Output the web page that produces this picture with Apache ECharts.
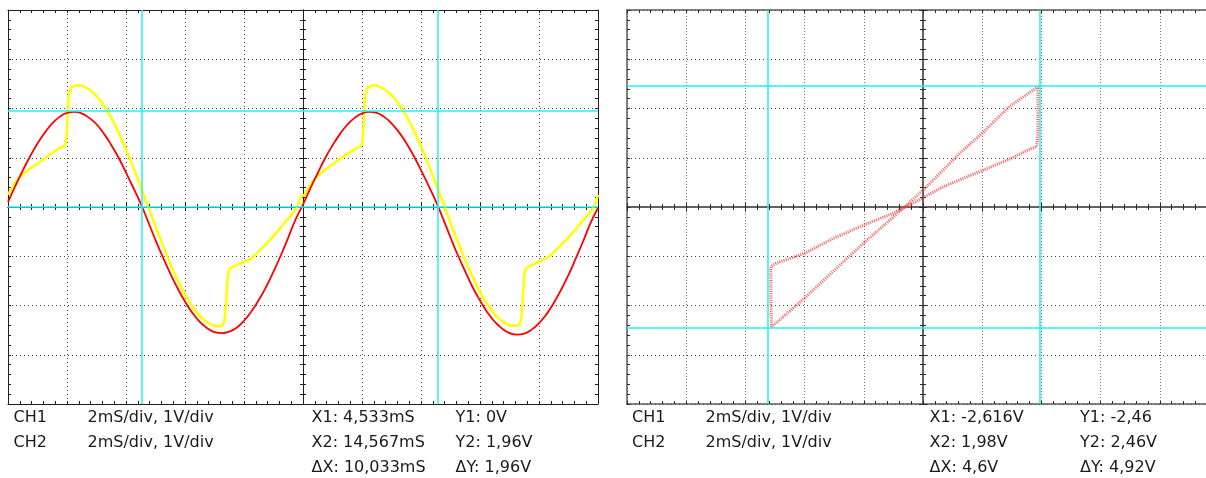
<!DOCTYPE html>
<html>
<head>
<meta charset="utf-8">
<script src="https://cdn.jsdelivr.net/npm/echarts@6/dist/echarts.min.js"></script>
<style>
  html, body { margin: 0; padding: 0; background: #ffffff; }
  #chart { width: 1206px; height: 478px; }
</style>
</head>
<body>
<div id="chart"></div>
<script>
// ---- Time-domain traces: time in ms, amplitude in V ----
const redT = [0, 0.25, 0.5, 0.75, 1, 1.25, 1.5, 1.75, 2, 2.25,
  2.5, 2.75, 3, 3.25, 3.5, 3.75, 4, 4.25, 4.5, 4.75,
  5, 5.25, 5.5, 5.75, 6, 6.25, 6.5, 6.75, 7, 7.25,
  7.5, 7.75, 8, 8.25, 8.5, 8.75, 9, 9.25, 9.5, 9.75,
  10, 10.25, 10.5, 10.75, 11, 11.25, 11.5, 11.75, 12, 12.25,
  12.5, 12.75, 13, 13.25, 13.5, 13.75, 14, 14.25, 14.5, 14.75,
  15, 15.25, 15.5, 15.75, 16, 16.25, 16.5, 16.75, 17, 17.25,
  17.5, 17.75, 18, 18.25, 18.5, 18.75, 19, 19.25, 19.5, 19.75, 20];
const redV = [0.10, 0.43, 0.74, 1.03, 1.29, 1.51, 1.70, 1.83, 1.91, 1.93,
  1.90, 1.81, 1.68, 1.49, 1.26, 1.00, 0.70, 0.39, 0.07, -0.30,
  -0.67, -1.02, -1.35, -1.65, -1.92, -2.15, -2.33, -2.46, -2.54, -2.56,
  -2.53, -2.45, -2.31, -2.12, -1.89, -1.62, -1.31, -0.98, -0.62, -0.25,
  0.05, 0.38, 0.69, 0.99, 1.25, 1.48, 1.67, 1.81, 1.90, 1.93,
  1.91, 1.83, 1.70, 1.52, 1.30, 1.04, 0.75, 0.44, 0.12, -0.24,
  -0.62, -0.98, -1.31, -1.63, -1.90, -2.14, -2.33, -2.47, -2.56, -2.59,
  -2.57, -2.49, -2.36, -2.18, -1.95, -1.68, -1.38, -1.04, -0.69, -0.32, -0.02];

const yelT = [0, 0.25, 0.5, 0.75, 1.0, 1.25, 1.5, 1.75, 1.93, 2.0,
  2.05, 2.12, 2.35, 2.5, 2.75, 3.0, 3.25, 3.5, 3.75, 4.0,
  4.25, 4.5, 4.75, 5.0, 5.25, 5.5, 5.75, 6.0, 6.25, 6.5,
  6.75, 7.0, 7.2, 7.3, 7.36, 7.43, 7.5, 7.75, 8.0, 8.25,
  8.5, 8.75, 9.0, 9.25, 9.5, 9.75, 9.85, 9.93,
  10.05, 10.3, 10.55, 10.8, 11.05, 11.3, 11.55, 11.8, 11.98, 12.05,
  12.1, 12.17, 12.4, 12.55, 12.8, 13.05, 13.3, 13.55, 13.8, 14.05,
  14.3, 14.55, 14.8, 15.05, 15.3, 15.55, 15.8, 16.05, 16.3, 16.55,
  16.8, 17.05, 17.25, 17.35, 17.41, 17.48, 17.55, 17.8, 18.05, 18.3,
  18.55, 18.8, 19.05, 19.3, 19.55, 19.8, 19.9, 19.98, 20.0];
const yelV = [0.25, 0.50, 0.66, 0.78, 0.88, 0.99, 1.10, 1.20, 1.26, 1.60,
  2.20, 2.40, 2.47, 2.46, 2.39, 2.25, 2.06, 1.81, 1.51, 1.17,
  0.80, 0.41, 0.01, -0.39, -0.78, -1.15, -1.48, -1.78, -2.02, -2.21,
  -2.34, -2.41, -2.42, -2.38, -2.20, -1.60, -1.27, -1.18, -1.12, -1.04,
  -0.90, -0.75, -0.59, -0.41, -0.23, -0.05, 0.06, 0.20,
  0.25, 0.50, 0.66, 0.78, 0.89, 1.00, 1.10, 1.19, 1.25, 1.60,
  2.20, 2.40, 2.47, 2.45, 2.37, 2.24, 2.05, 1.80, 1.50, 1.16,
  0.79, 0.40, 0.01, -0.40, -0.78, -1.15, -1.48, -1.78, -2.02, -2.21,
  -2.34, -2.41, -2.41, -2.36, -2.18, -1.60, -1.26, -1.17, -1.10, -1.02,
  -0.89, -0.74, -0.58, -0.41, -0.23, -0.05, 0.06, 0.20, 0.25];

// ---- XY mode trace (volts on both axes), one loop in traversal order ----
const xyX = [-0.2, 0.34, 1.0, 1.46, 1.83, 1.92, 1.94, 1.94, 1.92, 1.46,
  1.0, 0.62, 0.34, 0.06, -0.34, -0.62, -1.01, -1.52, -2.0, -2.42,
  -2.56, -2.57, -2.57, -2.48, -2.0, -1.52, -1.01, -0.51, -0.2];
const xyY = [0.06, 0.41, 0.74, 0.97, 1.19, 1.22, 1.45, 2.44, 2.43, 2.04,
  1.5, 1.09, 0.75, 0.41, -0.03, -0.33, -0.74, -1.31, -1.85, -2.29,
  -2.43, -1.9, -1.21, -1.14, -0.94, -0.64, -0.37, -0.13, 0.06];

// ---- Cursor positions ----
const timeCursorX = [4.533, 14.567];   // ms
const timeCursorY = [0, 1.96];         // V
const xyCursorX = [-2.616, 1.98];      // V
const xyCursorY = [-2.46, 2.46];       // V

// ---- Readout text ----
const timeReadout = [
  ['CH1', '2mS/div, 1V/div', 'X1: 4,533mS', 'Y1: 0V'],
  ['CH2', '2mS/div, 1V/div', 'X2: 14,567mS', 'Y2: 1,96V'],
  ['', '', '\u0394X: 10,033mS', '\u0394Y: 1,96V']
];
const xyReadout = [
  ['CH1', '2mS/div, 1V/div', 'X1: -2,616V', 'Y1: -2,46'],
  ['CH2', '2mS/div, 1V/div', 'X2: 1,98V', 'Y2: 2,46V'],
  ['', '', '\u0394X: 4,6V', '\u0394Y: 4,92V']
];

const pairs = (xs, ys) => xs.map((x, i) => [x, ys[i]]);

const CYAN = '#22f2f2';
const FONT = '16px "DejaVu Sans", sans-serif';

// Builds the frame, graticule and centre-axis set for one screen panel.
function panelAxes(gridIndex, base, xr, xInt, yr, yInt, cxr, st) {
  const line = { color: st.axis, width: st.axisW };
  const tick = (inside, len) => ({ show: true, inside: inside, length: len, lineStyle: { color: st.tick, width: 1 } });
  const minor = (len) => ({ show: true, splitNumber: 5, length: len, lineStyle: { color: st.tick, width: 1 } });
  const noLabel = { show: false };
  const xs = [
    { gridIndex, type: 'value', min: xr[0], max: xr[1], interval: xInt, position: 'bottom',
      axisLine: { show: true, onZero: false, lineStyle: line }, axisTick: tick(true, 3), minorTick: minor(3),
      axisLabel: noLabel, splitLine: { show: true, lineStyle: { color: st.gridV, type: st.dashV, width: 1 } } },
    { gridIndex, type: 'value', min: xr[0], max: xr[1], interval: xInt, position: 'top',
      axisLine: { show: true, onZero: false, lineStyle: line }, axisTick: tick(true, 3), minorTick: minor(3),
      axisLabel: noLabel, splitLine: { show: false } },
    { gridIndex, type: 'value', min: cxr[0], max: cxr[1], interval: xInt, position: 'bottom',
      axisLine: { show: true, onZero: true, onZeroAxisIndex: base.y, lineStyle: line }, axisTick: tick(true, 4), minorTick: minor(3),
      axisLabel: noLabel, splitLine: { show: false } },
    { gridIndex, type: 'value', min: cxr[0], max: cxr[1], interval: xInt, position: 'bottom',
      axisLine: { show: true, onZero: true, onZeroAxisIndex: base.y, lineStyle: line }, axisTick: tick(false, 4), minorTick: minor(3),
      axisLabel: noLabel, splitLine: { show: false } }
  ];
  const ys = [
    { gridIndex, type: 'value', min: yr[0], max: yr[1], interval: yInt, position: 'left',
      axisLine: { show: true, onZero: false, lineStyle: line }, axisTick: tick(true, 3), minorTick: minor(3),
      axisLabel: noLabel, splitLine: { show: true, lineStyle: { color: st.gridH, type: st.dashH, width: 1 } } },
    { gridIndex, type: 'value', min: yr[0], max: yr[1], interval: yInt, position: 'right',
      axisLine: { show: true, onZero: false, lineStyle: line }, axisTick: tick(true, 3), minorTick: minor(3),
      axisLabel: noLabel, splitLine: { show: false } },
    { gridIndex, type: 'value', min: yr[0], max: yr[1], interval: yInt, position: 'left',
      axisLine: { show: true, onZero: true, onZeroAxisIndex: base.x + 2, lineStyle: line }, axisTick: tick(true, 4), minorTick: minor(3),
      axisLabel: noLabel, splitLine: { show: false } },
    { gridIndex, type: 'value', min: yr[0], max: yr[1], interval: yInt, position: 'left',
      axisLine: { show: true, onZero: true, onZeroAxisIndex: base.x + 2, lineStyle: line }, axisTick: tick(false, 4), minorTick: minor(3),
      axisLabel: noLabel, splitLine: { show: false } }
  ];
  return { xs, ys };
}

const leftStyle = { axis: '#1e1e1e', axisW: 1, tick: '#1e1e1e', gridV: '#444', gridH: '#444', dashV: [1, 3], dashH: [1, 3] };
const rightStyle = { axis: '#5a5a5a', axisW: 1.5, tick: '#2a2a2a', gridV: '#777', gridH: '#444', dashV: [1, 2], dashH: [1, 3] };

const p0 = panelAxes(0, { x: 0, y: 0 }, [0, 20], 2, [-4, 4], 1, [-10, 10], leftStyle);
const p1 = panelAxes(1, { x: 4, y: 4 }, [-5, 5], 1, [-4, 4], 1, [-5, 5], rightStyle);

function cursorLines(xs, ys) {
  return {
    silent: true, symbol: 'none', animation: false,
    label: { show: false },
    lineStyle: { color: CYAN, width: 1.5, type: 'solid' },
    emphasis: { disabled: true },
    data: xs.map(v => ({ xAxis: v })).concat(ys.map(v => ({ yAxis: v })))
  };
}

function readoutText(rows, xs) {
  const out = [];
  const rowY = [417.5, 442.5, 467.5];
  rows.forEach((row, r) => {
    row.forEach((txt, c) => {
      if (!txt) return;
      out.push({ type: 'text', x: xs[c], y: rowY[r], silent: true,
        style: { text: txt, fill: '#1a1a1a', font: FONT, verticalAlign: 'middle' } });
    });
  });
  return out;
}

const option = {
  animation: false,
  backgroundColor: '#ffffff',
  grid: [
    { left: 8, top: 10, width: 590, height: 394, show: false, containLabel: false, outerBoundsMode: 'none' },
    { left: 627, top: 10, width: 592, height: 394, show: false, containLabel: false, outerBoundsMode: 'none' }
  ],
  xAxis: p0.xs.concat(p1.xs),
  yAxis: p0.ys.concat(p1.ys),
  graphic: readoutText(timeReadout, [13.5, 87.5, 311.5, 455.5])
    .concat(readoutText(xyReadout, [632, 705.5, 929.5, 1080])),
  series: [
    { type: 'line', xAxisIndex: 0, yAxisIndex: 0, data: [], z: 2,
      markLine: cursorLines(timeCursorX, timeCursorY) },
    { name: 'CH1', type: 'line', xAxisIndex: 0, yAxisIndex: 0, z: 3,
      data: pairs(yelT, yelV), showSymbol: false, smooth: 0.3,
      lineStyle: { color: '#ffff00', width: 2.5 }, itemStyle: { color: '#ffff00' } },
    { name: 'CH2', type: 'line', xAxisIndex: 0, yAxisIndex: 0, z: 4,
      data: pairs(redT, redV), showSymbol: false, smooth: 0.5,
      lineStyle: { color: '#ff0000', width: 1.8 }, itemStyle: { color: '#ff0000' } },
    { type: 'line', xAxisIndex: 4, yAxisIndex: 4, data: [], z: 2,
      markLine: cursorLines(xyCursorX, xyCursorY) },
    { name: 'XY', type: 'line', xAxisIndex: 4, yAxisIndex: 4, z: 4,
      data: pairs(xyX, xyY), showSymbol: false, smooth: false,
      lineStyle: { color: 'rgba(255,50,50,0.8)', width: 3, type: [1, 1.2] } }
  ]
};

const chart = echarts.init(document.getElementById('chart'), null, { renderer: 'canvas' });
chart.setOption(option);
</script>
</body>
</html>
